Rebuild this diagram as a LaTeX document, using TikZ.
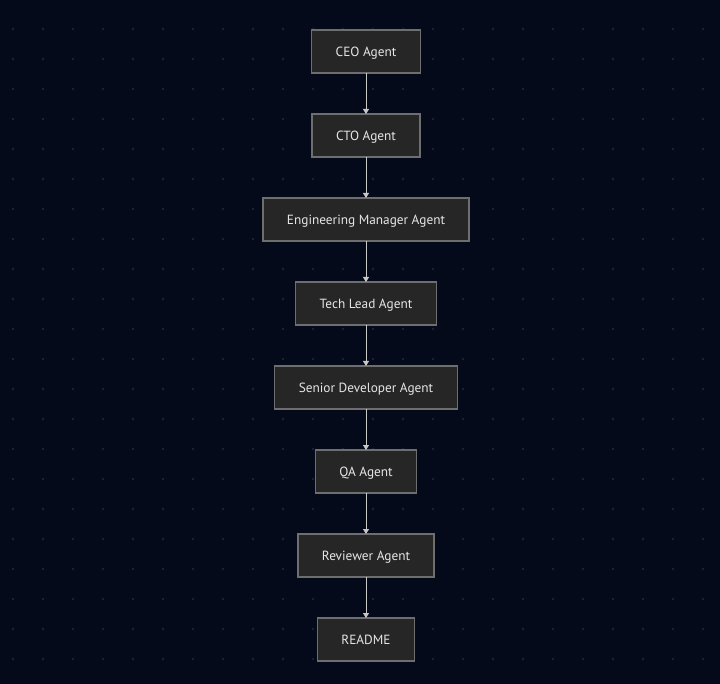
\documentclass[tikz,border=0pt]{standalone}
\usepackage{fontspec}
\setmainfont{PT Sans}
\usepackage{xcolor}
\definecolor{nightbg}{HTML}{050A1A}
\definecolor{griddot}{HTML}{1E2232}
\definecolor{boxfill}{HTML}{262626}
\definecolor{boxline}{HTML}{6E6E6E}
\definecolor{wire}{HTML}{C8C8C8}
\definecolor{labeltext}{HTML}{E6E6E6}
\usepackage{tikz}
\usetikzlibrary{arrows.meta, positioning}

\begin{document}
\begin{tikzpicture}[x=1pt, y=-1pt,
    agent/.style={draw=boxline, line width=1.3pt, fill=boxfill, text=labeltext,
      font=\fontsize{13.3}{15}\selectfont, minimum height=43pt, inner xsep=24pt,
      text height=9.3pt, text depth=0pt, outer sep=0pt},
    flow/.style={draw=wire, line width=0.9pt, -{Triangle[width=6pt,length=5pt]}},
    node distance=41pt]
  % Background with dot grid
  \fill[nightbg] (0,0) rectangle (720,684);
  \useasboundingbox (0,0) rectangle (720,684);
  \foreach \gx in {13,43,...,720}
    \foreach \gy in {-1,29,...,684}
      \fill[griddot] (\gx,\gy) circle (1.3pt);

  % Agent chain
  \node[agent] (ceo) at (366,51.5) {CEO Agent};
  \node[agent, below=of ceo] (cto) {CTO Agent};
  \node[agent, below=of cto] (eng) {Engineering Manager Agent};
  \node[agent, below=of eng] (lead) {Tech Lead Agent};
  \node[agent, below=of lead] (senior) {Senior Developer Agent};
  \node[agent, below=of senior] (qa) {QA Agent};
  \node[agent, below=of qa] (review) {Reviewer Agent};
  \node[agent, below=of review] (readme) {README};

  % Hand-offs
  \draw[flow] (ceo) -- (cto);
  \draw[flow] (cto) -- (eng);
  \draw[flow] (eng) -- (lead);
  \draw[flow] (lead) -- (senior);
  \draw[flow] (senior) -- (qa);
  \draw[flow] (qa) -- (review);
  \draw[flow] (review) -- (readme);
\end{tikzpicture}
\end{document}
